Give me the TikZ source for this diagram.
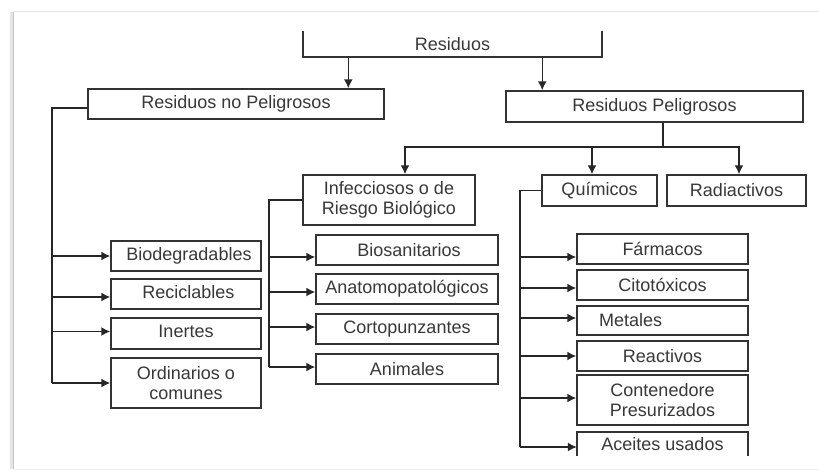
\documentclass[tikz,border=0pt]{standalone}
\usepackage{fontspec}
\setmainfont{Liberation Sans}
\usetikzlibrary{arrows.meta}
\definecolor{txtgray}{HTML}{383838}
\definecolor{boxline}{HTML}{333333}
\begin{document}
\begin{tikzpicture}[x=1pt,y=-1pt,
  every node/.style={font=\fontsize{18}{20}\selectfont, text=txtgray, inner sep=0pt, align=center},
  box/.style={draw=boxline, line width=1.5pt, rectangle},
  nobox/.style={rectangle},
  arr/.style={draw=black!85, line width=1.5pt, -{Latex[length=9pt,width=9pt]}},
  ln/.style={draw=black!85, line width=1.5pt},
  side/.style={draw=boxline, line width=1.5pt}]
\useasboundingbox (0,0) rectangle (819,471);
% page frame
\fill[white] (13,12) rectangle (819,469);
\draw[gray!20, line width=3pt] (11,12) -- (11,469);
\draw[gray!45, line width=1.5pt] (13.5,12) -- (13.5,469);
\draw[gray!18, line width=1.5pt] (13,11.5) -- (819,11.5);
\draw[gray!12, line width=1pt] (13,469) -- (819,469);

% nodes
\node[nobox, minimum width=299pt, minimum height=26pt] (res) at (452.5,44) {Residuos};
\draw[side] (res.north west) -- (res.south west) -- (res.south east) -- (res.north east);

\node[box, minimum width=296pt, minimum height=30pt] (rnp) at (236,104) {Residuos no Peligrosos};
\node[box, minimum width=297pt, minimum height=31pt] (rp) at (654.5,106.5) {Residuos Peligrosos};

\node[box, minimum width=172pt, minimum height=50pt] (inf) at (389,200) {Infecciosos o de\\Riesgo Biológico};
\node[box, minimum width=115pt, minimum height=31pt] (qui) at (599.5,190.5) {Químicos};
\node[box, minimum width=139pt, minimum height=31pt] (rad) at (736.5,190.5) {Radiactivos};

\node[box, minimum width=150pt, minimum height=30pt] (bio) at (186,256) {\hspace*{6pt}\raisebox{-1pt}{Biodegradables}};
\node[box, minimum width=150pt, minimum height=30pt] (rec) at (186,294) {\hspace*{5pt}\raisebox{4pt}{Reciclables}};
\node[box, minimum width=150pt, minimum height=31pt] (ine) at (186,333.5) {\raisebox{4pt}{Inertes}};
\node[box, minimum width=150pt, minimum height=50pt] (ord) at (186,383) {Ordinarios o\\comunes};

\node[box, minimum width=182pt, minimum height=30pt] (bios) at (407,250) {\hspace*{4pt}\raisebox{-4pt}{Biosanitarios}};
\node[box, minimum width=182pt, minimum height=30pt] (ana) at (407,289) {\raisebox{-1pt}{Anatomopatológicos}};
\node[box, minimum width=182pt, minimum height=30pt] (cor) at (407,329) {\raisebox{1pt}{Cortopunzantes}};
\node[box, minimum width=182pt, minimum height=30pt] (ani) at (407,369) {\raisebox{1pt}{Animales}};

\node[box, minimum width=171pt, minimum height=30pt] (far) at (662.5,249) {\raisebox{-1pt}{Fármacos}};
\node[box, minimum width=171pt, minimum height=30pt] (cit) at (662.5,285) {Citotóxicos};
\node[box, minimum width=171pt, minimum height=29pt, text width=127pt, inner xsep=22pt, align=left] (met) at (662.5,320.5) {\raisebox{-3pt}{Metales}};
\node[box, minimum width=171pt, minimum height=30pt] (rea) at (662.5,356) {\raisebox{1pt}{Reactivos}};
\node[box, minimum width=171pt, minimum height=50pt] (con) at (662.5,400) {Contenedore\\Presurizados};
\node[nobox, minimum width=171pt, minimum height=24pt] (ace) at (662.5,444) {\raisebox{-4pt}{Aceites usados}};
\draw[side] (ace.south west) -- (ace.north west) -- (ace.north east) -- (ace.south east);

% top connectors
\draw[arr] ([xshift=45.5pt]res.south west) -- ([xshift=45.5pt]res.south west |- rnp.north);
\draw[arr] ([xshift=37pt]rp.north west |- res.south) -- ([xshift=37pt]rp.north west);

% Residuos Peligrosos bus
\coordinate (bus) at (663,147);
\draw[ln] (rp.south -| bus) -- (bus);
\draw[arr] (bus) -| ([xshift=16pt]inf.north);
\draw[arr] (bus) -| ([xshift=-7.5pt]qui.north);
\draw[arr] (bus) -| ([xshift=2.5pt]rad.north);

% no peligrosos trunk
\coordinate (t1) at (52,108);
\draw[ln] ([yshift=-4pt]rnp.west) -- (t1) -- (t1 |- ord.west);
\draw[arr] (t1 |- bio.west) -- (bio.west);
\draw[arr] ([yshift=-3pt]t1 |- rec.west) -- ([yshift=-3pt]rec.west);
\draw[arr] ([yshift=2pt]t1 |- ine.west) -- ([yshift=2pt]ine.west);
\draw[arr] (t1 |- ord.west) -- (ord.west);

% infecciosos trunk
\coordinate (t2) at (269,200);
\draw[ln] (inf.west) -- (t2) -- ([yshift=2pt]t2 |- ani.west);
\draw[arr] ([yshift=-7pt]t2 |- bios.west) -- ([yshift=-7pt]bios.west);
\draw[arr] ([yshift=-3pt]t2 |- ana.west) -- ([yshift=-3pt]ana.west);
\draw[arr] ([yshift=2pt]t2 |- cor.west) -- ([yshift=2pt]cor.west);
\draw[arr] ([yshift=2pt]t2 |- ani.west) -- ([yshift=2pt]ani.west);

% quimicos trunk
\coordinate (t3) at (520,190.5);
\draw[ln] (qui.west) -- (t3) -- ([yshift=-3pt]t3 |- ace.west);
\draw[arr] ([yshift=-8pt]t3 |- far.west) -- ([yshift=-8pt]far.west);
\draw[arr] ([yshift=-3pt]t3 |- cit.west) -- ([yshift=-3pt]cit.west);
\draw[arr] ([yshift=2.5pt]t3 |- met.west) -- ([yshift=2.5pt]met.west);
\draw[arr] (t3 |- rea.west) -- (rea.west);
\draw[arr] ([yshift=2pt]t3 |- con.west) -- ([yshift=2pt]con.west);
\draw[arr] ([yshift=-3pt]t3 |- ace.west) -- ([yshift=-3pt]ace.west);
\end{tikzpicture}
\end{document}
